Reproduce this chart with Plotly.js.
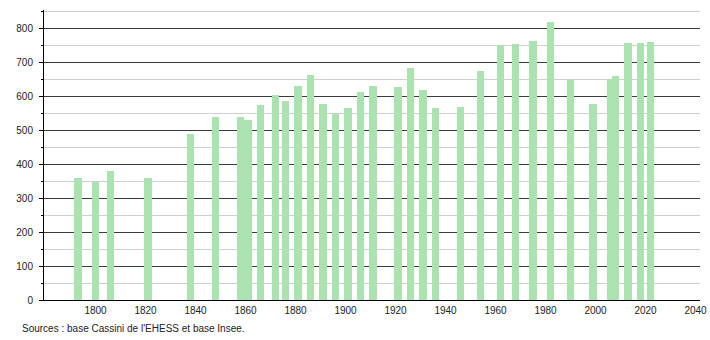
<!DOCTYPE html>
<html>
<head>
<meta charset="utf-8">
<script src="https://cdn.plot.ly/plotly-3.0.1.min.js"></script>
<style>html,body{margin:0;padding:0;background:#fff;}#chart{width:710px;height:340px;}</style>
</head>
<body>
<div id="chart"></div>
<script>
var years = [1793, 1800, 1806, 1821, 1838, 1848, 1858, 1861, 1866, 1872, 1876, 1881, 1886, 1891, 1896, 1901, 1906, 1911, 1921, 1926, 1931, 1936, 1946, 1954, 1962, 1968, 1975, 1982, 1990, 1999, 2006, 2008, 2013, 2018, 2022];
var population = [360, 349, 380, 360, 490, 541, 540, 532, 575, 605, 586, 630, 663, 577, 548, 565, 614, 630, 627, 683, 619, 567, 568, 675, 751, 754, 763, 820, 648, 579, 651, 661, 759, 759, 762];
var xTicks = [1800, 1820, 1840, 1860, 1880, 1900, 1920, 1940, 1960, 1980, 2000, 2020, 2040];
var yTicks = [0, 100, 200, 300, 400, 500, 600, 700, 800];
var sourceText = "Sources : base Cassini de l'EHESS et base Insee.";

var trace = {
  type: 'bar',
  x: years,
  y: population,
  width: 3,
  marker: {color: 'rgb(170,226,176)', line: {width: 0}},
  hoverinfo: 'x+y'
};

var layout = {
  width: 710,
  height: 340,
  margin: {l: 44, r: 10, t: 10, b: 40, pad: 0},
  paper_bgcolor: '#ffffff',
  plot_bgcolor: '#ffffff',
  showlegend: false,
  font: {family: 'Liberation Sans, Arial, sans-serif', size: 10, color: '#222'},
  bargap: 0,
  xaxis: {
    range: [1779.4, 2041.8],
    tickvals: xTicks,
    ticktext: xTicks.map(String),
    showgrid: false,
    zeroline: false,
    showline: true,
    linecolor: '#000',
    linewidth: 1,
    ticks: '',
    ticklabelstandoff: 1,
    tickfont: {size: 10, color: '#222'}
  },
  yaxis: {
    range: [0, 855],
    tickvals: yTicks,
    ticktext: yTicks.map(String),
    showgrid: true,
    gridcolor: '#3a3a3a',
    gridwidth: 1,
    zeroline: false,
    showline: true,
    linecolor: '#000',
    linewidth: 1,
    ticks: 'outside',
    ticklen: 4,
    tickcolor: '#000',
    ticklabelstandoff: 4,
    tickfont: {size: 10, color: '#222'},
    minor: {
      dtick: 50,
      tick0: 0,
      showgrid: true,
      gridcolor: '#cfcfcf',
      gridwidth: 1,
      ticks: 'outside',
      ticklen: 2,
      tickcolor: '#000'
    }
  },
  annotations: [{
    text: sourceText,
    xref: 'paper', yref: 'paper',
    x: -0.037, y: -0.072,
    xanchor: 'left', yanchor: 'top',
    showarrow: false,
    font: {size: 10, color: '#222'}
  }]
};

Plotly.newPlot('chart', [trace], layout, {displayModeBar: false, staticPlot: true});
</script>
</body>
</html>
